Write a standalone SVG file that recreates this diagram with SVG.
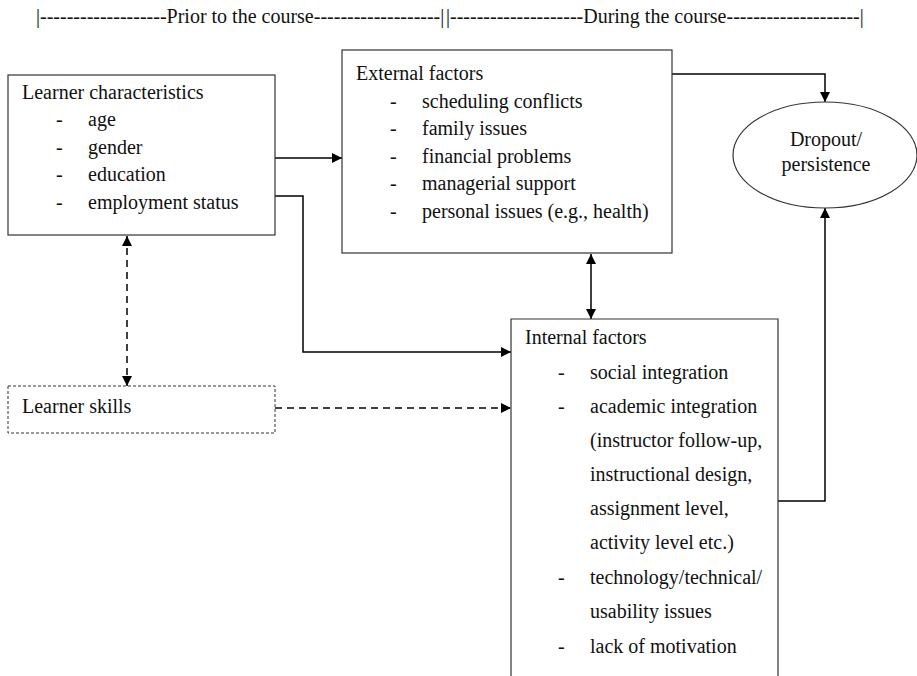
<svg xmlns="http://www.w3.org/2000/svg" width="917" height="676" viewBox="0 0 917 676">
<defs>
<style>
text{font-family:"Liberation Serif","Times New Roman",serif;font-size:20px;fill:#111}
.box{fill:#fff;stroke:#333;stroke-width:1.2}
.dbox{fill:#fff;stroke:#333;stroke-width:1;stroke-dasharray:3,2}
.c{fill:none;stroke:#000;stroke-width:1.5}
.cd{fill:none;stroke:#000;stroke-width:1.5;stroke-dasharray:7,5}
</style>
<marker id="ah" viewBox="0 0 10 10" refX="10" refY="5" markerWidth="10" markerHeight="10" markerUnits="userSpaceOnUse" orient="auto-start-reverse">
<path d="M0,0 L10,5 L0,10 z" fill="#000"/>
</marker>
</defs>
<rect width="917" height="676" fill="#fff"/>
<g id="header">
<text x="36" y="23">|-------------------Prior to the course-------------------|</text>
<text x="446" y="23">|--------------------During the course--------------------|</text>
</g>
<g id="connectors">
<path class="c" d="M275,158 H342" marker-end="url(#ah)"/>
<path class="c" d="M275,196 H303 V352 H511" marker-end="url(#ah)"/>
<path class="cd" d="M127,236 V386" marker-start="url(#ah)" marker-end="url(#ah)"/>
<path class="cd" d="M275,408 H511" marker-end="url(#ah)"/>
<path class="c" d="M591,254 V319" marker-start="url(#ah)" marker-end="url(#ah)"/>
<path class="c" d="M672,74 H825 V102" marker-end="url(#ah)"/>
<path class="c" d="M778,501 H825 V208" marker-end="url(#ah)"/>
</g>
<g id="learner-characteristics">
<rect class="box" x="8" y="75" width="267" height="160"/>
<text x="22" y="99">Learner characteristics</text>
<text x="56" y="126">-</text><text x="88" y="126">age</text>
<text x="56" y="154">-</text><text x="88" y="154">gender</text>
<text x="56" y="181">-</text><text x="88" y="181">education</text>
<text x="56" y="209">-</text><text x="88" y="209">employment status</text>
</g>
<g id="external-factors">
<rect class="box" x="342" y="50" width="330" height="203"/>
<text x="356" y="80">External factors</text>
<text x="390" y="108">-</text><text x="422" y="108">scheduling conflicts</text>
<text x="390" y="135">-</text><text x="422" y="135">family issues</text>
<text x="390" y="163">-</text><text x="422" y="163">financial problems</text>
<text x="390" y="190">-</text><text x="422" y="190">managerial support</text>
<text x="390" y="218">-</text><text x="422" y="218">personal issues (e.g., health)</text>
</g>
<g id="dropout">
<ellipse class="box" cx="825" cy="155" rx="92" ry="53"/>
<text x="826" y="146" text-anchor="middle">Dropout/</text>
<text x="826" y="171" text-anchor="middle">persistence</text>
</g>
<g id="learner-skills">
<rect class="dbox" x="8" y="386" width="267" height="47"/>
<text x="22" y="413">Learner skills</text>
</g>
<g id="internal-factors">
<path class="box" d="M511,677 V319 H778 V677"/>
<text x="525" y="344">Internal factors</text>
<text x="558" y="379">-</text><text x="590" y="379">social integration</text>
<text x="558" y="413">-</text><text x="590" y="413">academic integration</text>
<text x="590" y="447">(instructor follow-up,</text>
<text x="590" y="481">instructional design,</text>
<text x="590" y="515">assignment level,</text>
<text x="590" y="549">activity level etc.)</text>
<text x="558" y="584">-</text><text x="590" y="584">technology/technical/</text>
<text x="590" y="618">usability issues</text>
<text x="558" y="653">-</text><text x="590" y="653">lack of motivation</text>
</g>
</svg>
